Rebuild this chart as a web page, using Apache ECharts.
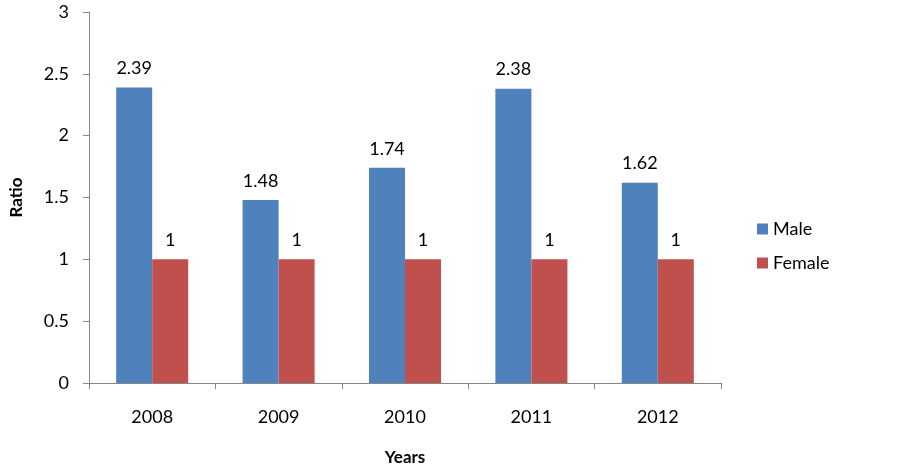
<!DOCTYPE html>
<html>
<head>
<meta charset="utf-8">
<script src="https://cdn.jsdelivr.net/npm/echarts@6/dist/echarts.min.js"></script>
<style>html,body{margin:0;padding:0;background:#fff;}#c{width:902px;height:471px;}</style>
</head>
<body>
<div id="c"></div>
<script>
const categories = ['2008', '2009', '2010', '2011', '2012'];
const maleValues = [2.39, 1.48, 1.74, 2.38, 1.62];
const femaleValues = [1, 1, 1, 1, 1];
const yTicks = [0, 0.5, 1, 1.5, 2, 2.5, 3];

const font = 'Lato, "Open Sans", sans-serif';
const chart = echarts.init(document.getElementById('c'));
const labelStyle = {show: true, position: 'top', distance: 10, color: '#000', fontSize: 18, fontFamily: font};
chart.setOption({
  animation: false,
  textStyle: {fontFamily: font},
  grid: {left: 89, right: 181, top: 12, bottom: 83, containLabel: false},
  legend: {
    orient: 'vertical', left: 752, top: 215,
    itemWidth: 11, itemHeight: 11, itemGap: 16,
    icon: 'rect',
    textStyle: {fontSize: 18, color: '#000', fontFamily: font, padding: [0, 0, 0, 0]},
    data: ['Male', 'Female']
  },
  xAxis: {
    type: 'category', data: categories,
    name: 'Years', nameLocation: 'middle', nameGap: 66,
    nameTextStyle: {fontWeight: 'bold', fontSize: 17, color: '#000', fontFamily: font},
    axisLine: {lineStyle: {color: '#868686', width: 1}},
    axisTick: {show: true, length: 6, lineStyle: {color: '#868686'}},
    axisLabel: {color: '#000', fontSize: 18, margin: 25, fontFamily: font}
  },
  yAxis: {
    type: 'value', min: 0, max: 3, interval: 0.5,
    name: 'Ratio', nameLocation: 'middle', nameGap: 64, nameRotate: 90,
    nameTextStyle: {fontWeight: 'bold', fontSize: 17, color: '#000', fontFamily: font},
    axisLine: {show: true, lineStyle: {color: '#868686', width: 1}},
    axisTick: {show: true, length: 6, lineStyle: {color: '#868686'}},
    splitLine: {show: false},
    axisLabel: {color: '#000', fontSize: 18, margin: 20, fontFamily: font,
      formatter: v => yTicks.includes(v) ? String(v) : ''}
  },
  series: [
    {name: 'Male', type: 'bar', data: maleValues, barGap: '0%', barCategoryGap: '43%',
     itemStyle: {color: '#4F81BD'}, label: labelStyle},
    {name: 'Female', type: 'bar', data: femaleValues,
     itemStyle: {color: '#C0504D'}, label: labelStyle}
  ]
});
</script>
</body>
</html>
